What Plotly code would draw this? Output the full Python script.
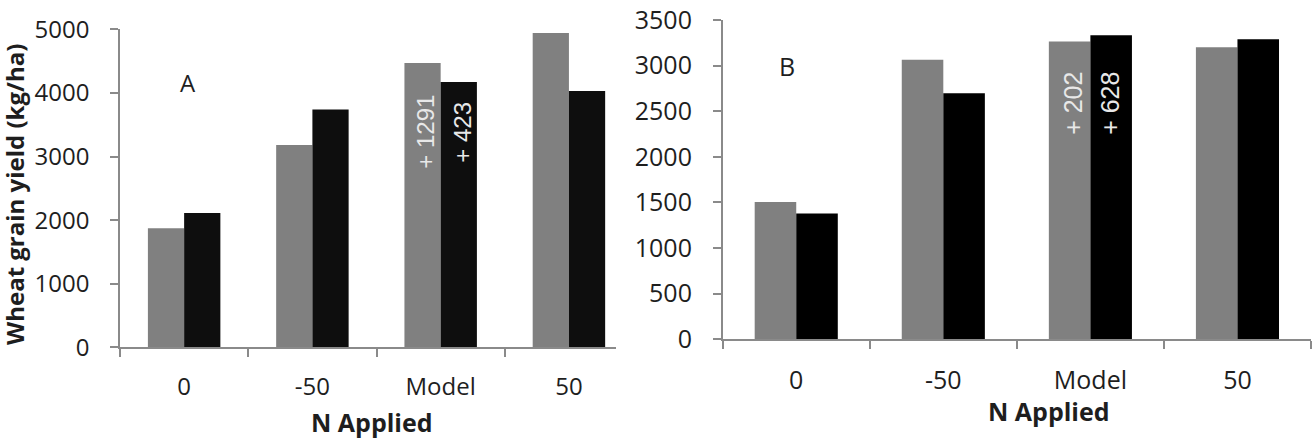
import plotly.graph_objects as go

W, H = 1314, 441

categories = ["0", "-50", "Model", "50"]
a_gray = [1870, 3180, 4470, 4940]
a_black = [2110, 3740, 4170, 4030]
b_gray = [1505, 3065, 3265, 3200]
b_black = [1378, 2698, 3333, 3289]
a_ticks = [0, 1000, 2000, 3000, 4000, 5000]
b_ticks = [0, 500, 1000, 1500, 2000, 2500, 3000, 3500]

GRAY = "#808080"
AXC = "#8a8a8a"
TXT = "#1e1e1e"

def px(x):
    return x / W

def py(y):
    return 1 - y / H

fig = go.Figure()
fig.add_trace(go.Bar(x=categories, y=a_gray, marker=dict(color=GRAY, line=dict(width=0)),
                     xaxis="x", yaxis="y", showlegend=False))
fig.add_trace(go.Bar(x=categories, y=a_black, marker=dict(color="#0e0e0e", line=dict(width=0)),
                     xaxis="x", yaxis="y", showlegend=False))
fig.add_trace(go.Bar(x=categories, y=b_gray, marker=dict(color=GRAY, line=dict(width=0)),
                     xaxis="x2", yaxis="y2", showlegend=False))
fig.add_trace(go.Bar(x=categories, y=b_black, marker=dict(color="#000000", line=dict(width=0)),
                     xaxis="x2", yaxis="y2", showlegend=False))

tickfont_a = dict(family="Open Sans", size=24, color=TXT)
tickfont_b = dict(family="Open Sans", size=25, color=TXT)

common_x = dict(type="category", showline=True, linecolor=AXC, linewidth=1.5,
                ticks="outside", ticklen=8, tickcolor=AXC, tickwidth=1.5,
                tickson="boundaries", showgrid=False, zeroline=False,
                fixedrange=True, automargin=False)
common_y = dict(showline=True, linecolor=AXC, linewidth=1.5, ticks="outside",
                ticklen=8, tickcolor=AXC, tickwidth=1.5, showgrid=False,
                zeroline=False, automargin=False)

fig.update_layout(
    width=W, height=H,
    margin=dict(l=0, r=0, t=0, b=0, pad=0, autoexpand=False),
    paper_bgcolor="white", plot_bgcolor="white",
    barmode="group", bargap=0.435, bargroupgap=0,
    xaxis=dict(domain=[px(120), px(616)], range=[-0.5, 3.367], anchor="y",
               tickfont=tickfont_a, ticklabelstandoff=17, **common_x),
    yaxis=dict(domain=[py(347.3), py(29.3)], range=[0, 5000], anchor="x",
               tickvals=a_ticks, tickfont=tickfont_a, ticklabelstandoff=16, **common_y),
    xaxis2=dict(domain=[px(722.7), px(1311)], range=[-0.5, 3.5], anchor="y2",
                tickfont=tickfont_b, ticklabelstandoff=18, **common_x),
    yaxis2=dict(domain=[py(339.3), py(20)], range=[0, 3500], anchor="x2",
                tickvals=b_ticks, tickfont=tickfont_b, ticklabelstandoff=16, **common_y),
)

ann_font = dict(family="Liberation Sans", size=24, color="#e8e8e8")
label_font = dict(family="Open Sans", size=24, color=TXT)
title_font = dict(family="Open Sans", size=25, color=TXT)

annotations = [
    # panel letters
    dict(text="A", xref="paper", yref="paper", x=px(188), y=py(82), showarrow=False,
         font=label_font, xanchor="center", yanchor="middle"),
    dict(text="B", xref="paper", yref="paper", x=px(787), y=py(66), showarrow=False,
         font=dict(family="Open Sans", size=25, color=TXT), xanchor="center", yanchor="middle"),
    # value labels
    dict(text="+ 1291", xref="x", yref="y", x="Model", y=3385, xshift=-16, showarrow=False,
         textangle=-90, font=ann_font, xanchor="center", yanchor="middle"),
    dict(text="+ 423", xref="x", yref="y", x="Model", y=3385, xshift=21, showarrow=False,
         textangle=-90, font=ann_font, xanchor="center", yanchor="middle"),
    dict(text="+ 202", xref="x2", yref="y2", x="Model", y=2585, xshift=-17, showarrow=False,
         textangle=-90, font=dict(family="Liberation Sans", size=25, color="#e8e8e8"),
         xanchor="center", yanchor="middle"),
    dict(text="+ 628", xref="x2", yref="y2", x="Model", y=2585, xshift=20, showarrow=False,
         textangle=-90, font=dict(family="Liberation Sans", size=25, color="#e8e8e8"),
         xanchor="center", yanchor="middle"),
    # axis titles
    dict(text="<b>Wheat grain yield (kg/ha)</b>", xref="paper", yref="paper", x=px(14), y=py(195),
         showarrow=False, textangle=-90, font=dict(family="Open Sans", size=24, color=TXT),
         xanchor="center", yanchor="middle"),
    dict(text="<b>N Applied</b>", xref="paper", yref="paper", x=px(372), y=0,
         showarrow=False, font=title_font, xanchor="center", yanchor="bottom"),
    dict(text="<b>N Applied</b>", xref="paper", yref="paper", x=px(1049), y=py(411),
         showarrow=False, font=title_font, xanchor="center", yanchor="middle"),
]
fig.update_layout(annotations=annotations)

fig.write_html("out.html")
